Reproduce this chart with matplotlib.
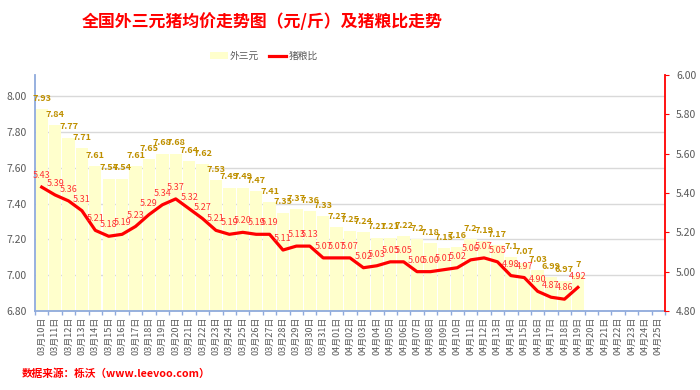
import numpy as np
import matplotlib
matplotlib.use("Agg")
import matplotlib.pyplot as plt

plt.rcParams['font.family'] = ['Noto Sans CJK SC', 'DejaVu Sans']

# categories: 03-10 .. 04-25
dates = ["03月%02d日" % d for d in range(10, 32)] + ["04月%02d日" % d for d in range(1, 26)]

# 外三元 price (元/斤)
price = [7.93, 7.84, 7.77, 7.71, 7.61, 7.54, 7.54, 7.61, 7.65, 7.68, 7.68,
         7.64, 7.62, 7.53, 7.49, 7.49, 7.47, 7.41, 7.35, 7.37, 7.36, 7.33,
         7.27, 7.25, 7.24, 7.21, 7.21, 7.22, 7.2, 7.18, 7.15, 7.16, 7.2,
         7.19, 7.17, 7.1, 7.07, 7.03, 6.99, 6.97, 7]
price_lbl = ["7.93", "7.84", "7.77", "7.71", "7.61", "7.54", "7.54", "7.61", "7.65", "7.68", "7.68",
             "7.64", "7.62", "7.53", "7.49", "7.49", "7.47", "7.41", "7.35", "7.37", "7.36", "7.33",
             "7.27", "7.25", "7.24", "7.21", "7.21", "7.22", "7.2", "7.18", "7.15", "7.16", "7.2",
             "7.19", "7.17", "7.1", "7.07", "7.03", "6.99", "6.97", "7"]

# 猪粮比
ratio = [5.43, 5.39, 5.36, 5.31, 5.21, 5.18, 5.19, 5.23, 5.29, 5.34, 5.37,
         5.32, 5.27, 5.21, 5.19, 5.20, 5.19, 5.19, 5.11, 5.13, 5.13, 5.07,
         5.07, 5.07, 5.02, 5.03, 5.05, 5.05, 5.00, 5.00, 5.01, 5.02, 5.06,
         5.07, 5.05, 4.98, 4.97, 4.90, 4.87, 4.86, 4.92]

x = np.arange(len(dates))
xd = np.arange(len(price))

fig = plt.figure(figsize=(7, 3.9), dpi=100)
ax = fig.add_axes([0.05, 0.2026, 0.9, 0.605])
ax2 = ax.twinx()

blue = '#8FAADC'
red = '#FF0000'

ax.bar(xd, price, width=0.92, color='#FFFFCC', zorder=2, label='外三元')
for i in range(len(price)):
    ax.text(xd[i], price[i] + 0.035, price_lbl[i], ha='center', va='bottom',
            fontsize=6.5, color='#BF9000', fontweight='bold', zorder=5)

ax.set_xlim(-0.5, len(dates) - 0.5)
ax.set_ylim(6.8, 8.12)
ax.set_yticks(np.arange(6.8, 8.01, 0.2))
ax.set_yticklabels(["%.2f" % v for v in np.arange(6.8, 8.01, 0.2)])
ax.grid(axis='y', color='#D9D9D9', lw=1, zorder=0)
ax.set_axisbelow(True)

ax.set_xticks(x)
ax.set_xticklabels(dates, rotation=90, fontsize=6.5, color='#595959')
ax.set_xticks(np.arange(-0.5, len(dates), 1), minor=True)
ax.tick_params(axis='x', which='major', length=0, pad=4)
ax.tick_params(axis='x', which='minor', length=3, color=blue, width=1)
ax.tick_params(axis='y', length=0, labelsize=7.5, labelcolor='#595959', pad=6)

for s in ['top', 'right']:
    ax.spines[s].set_visible(False)
ax.spines['left'].set_color(blue)
ax.spines['bottom'].set_color(blue)
ax.spines['left'].set_linewidth(1.3)
ax.spines['bottom'].set_linewidth(1.3)

ax2.plot(xd, ratio, color=red, lw=2.3, zorder=4, label='猪粮比')
for i in range(len(ratio)):
    ax2.text(xd[i], ratio[i] + 0.035, "%.2f" % ratio[i], ha='center', va='bottom',
             fontsize=6.5, color='#FF3333', zorder=6)
ax2.set_ylim(4.8, 6.0)
ax2.set_yticks(np.arange(4.8, 6.01, 0.2))
ax2.set_yticklabels(["%.2f" % v for v in np.arange(4.8, 6.01, 0.2)])
ax2.tick_params(axis='y', length=3, color=red, labelsize=7.5, labelcolor='#595959', pad=5)
for s in ['top', 'left', 'bottom']:
    ax2.spines[s].set_visible(False)
ax2.spines['right'].set_color(red)
ax2.spines['right'].set_linewidth(1.3)

fig.text(262 / 700, 1 - 22 / 390, '全国外三元猪均价走势图（元/斤）及猪粮比走势',
         ha='center', va='center', fontsize=12.2, color=red, fontweight='bold')

h1, l1 = ax.get_legend_handles_labels()
h2, l2 = ax2.get_legend_handles_labels()
fig.legend(h1 + h2, l1 + l2, loc='center', bbox_to_anchor=(264 / 700, 1 - 56 / 390),
           ncol=2, frameon=False, fontsize=7, labelcolor='#595959',
           handlelength=1.8, handletextpad=0.2, columnspacing=1.0)

fig.text(22 / 700, 1 - 374 / 390, '数据来源：栎沃（www.leevoo.com）',
         ha='left', va='center', fontsize=7.7, color=red, fontweight='bold')

plt.savefig('out.png', dpi=100)
